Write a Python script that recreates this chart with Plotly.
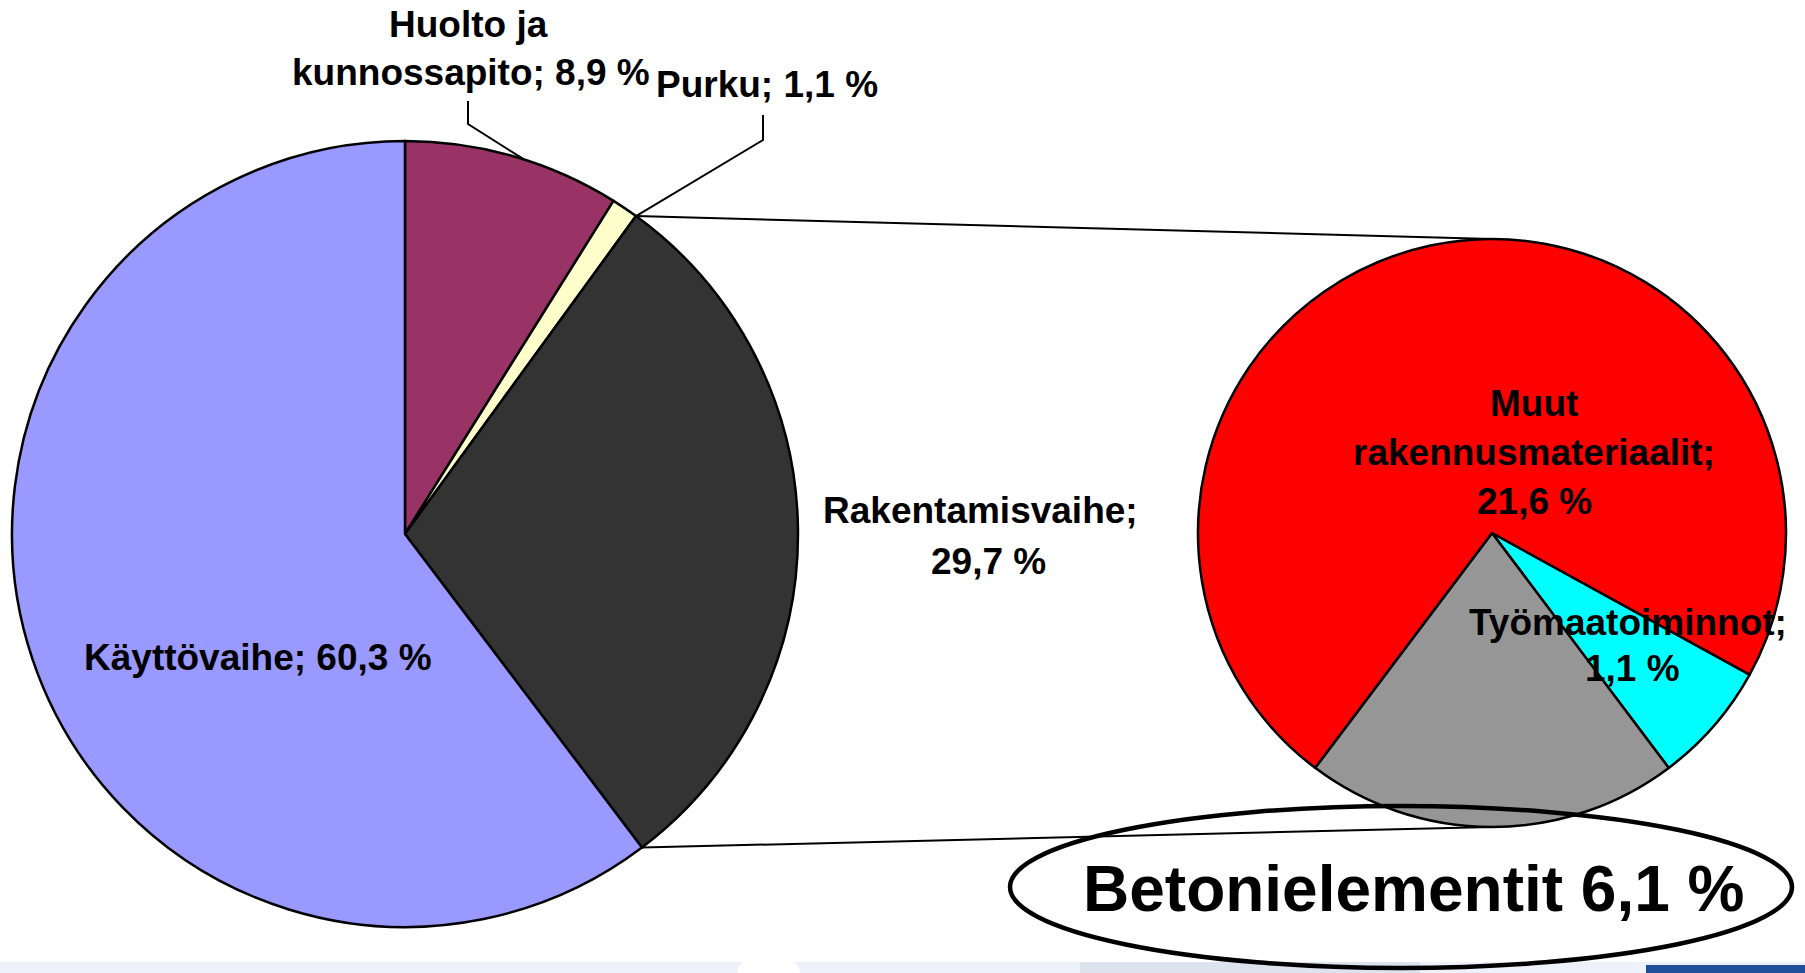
import math
import plotly.graph_objects as go

# ---- data ----
main_labels = ["Huolto ja kunnossapito", "Purku", "Rakentamisvaihe", "Käyttövaihe"]
main_values = [8.9, 1.1, 29.7, 60.3]
main_text = ["8,9 %", "1,1 %", "29,7 %", "60,3 %"]
main_colors = ["#993366", "#FFFFCC", "#333333", "#9999FF"]

sub_labels = ["Työmaatoiminnot", "Betonielementit", "Muut rakennusmateriaalit"]
sub_values = [2.0, 6.1, 21.6]          # slice sizes as drawn
sub_text = ["1,1 %", "6,1 %", "21,6 %"]
sub_colors = ["#00FFFF", "#969696", "#FF0000"]

W, H = 1805, 973

def px(x):
    return x / W

def py(y):
    return 1 - y / H

# pie geometry (pixels)
L_CX, L_CY, L_R = 405, 534, 393
R_CX, R_CY, R_R = 1492, 533, 294
SUB_ROT = 118.8

fig = go.Figure()
fig.add_trace(go.Pie(
    labels=main_labels, values=main_values, sort=False, direction="clockwise",
    rotation=0, marker=dict(colors=main_colors, line=dict(color="black", width=2.5)),
    textinfo="none", hoverinfo="label+percent", showlegend=False,
    domain=dict(x=[px(L_CX - L_R), px(L_CX + L_R)], y=[py(L_CY + L_R), py(L_CY - L_R)]),
))
fig.add_trace(go.Pie(
    labels=sub_labels, values=sub_values, sort=False, direction="clockwise",
    rotation=SUB_ROT, marker=dict(colors=sub_colors, line=dict(color="black", width=2.5)),
    textinfo="none", hoverinfo="label", showlegend=False,
    domain=dict(x=[px(R_CX - R_R), px(R_CX + R_R)], y=[py(R_CY + R_R), py(R_CY - R_R)]),
))

total = sum(main_values)

def arc_pt(frac):
    a = 2 * math.pi * frac
    return L_CX + L_R * math.sin(a), L_CY - L_R * math.cos(a)

cum = [0]
for v in main_values:
    cum.append(cum[-1] + v)

shapes = []
# bottom strip decoration
shapes.append(dict(type="rect", xref="paper", yref="paper", x0=0, x1=1, y0=0, y1=py(962),
                   fillcolor="#EDF1F9", line=dict(width=0), layer="below"))
shapes.append(dict(type="rect", xref="paper", yref="paper", x0=px(1080), x1=px(1420), y0=0, y1=py(962),
                   fillcolor="#DCE3EF", line=dict(width=0), layer="below"))
shapes.append(dict(type="circle", xref="paper", yref="paper", x0=px(737), x1=px(800), y0=py(990), y1=py(955),
                   fillcolor="white", line=dict(width=0), layer="below"))
shapes.append(dict(type="rect", xref="paper", yref="paper", x0=px(1646), x1=1, y0=0, y1=py(965),
                   fillcolor="#1F4E9A", line=dict(width=0)))

# connector lines from the Rakentamisvaihe slice edges to the sub pie
sx, sy = arc_pt(cum[2] / total)
ex, ey = arc_pt(cum[3] / total)
shapes.append(dict(type="line", xref="paper", yref="paper", x0=px(sx), y0=py(sy),
                   x1=px(R_CX), y1=py(R_CY - R_R), line=dict(color="black", width=2)))
shapes.append(dict(type="line", xref="paper", yref="paper", x0=px(ex), y0=py(ey),
                   x1=px(R_CX), y1=py(R_CY + R_R), line=dict(color="black", width=2)))

# leader lines
hx, hy = arc_pt((cum[0] + cum[1]) / 2 / total * 1.1)
shapes.append(dict(type="path", xref="paper", yref="paper",
                   path=f"M {px(468)},{py(101)} L {px(468)},{py(124)} L {px(hx)},{py(hy)}",
                   line=dict(color="black", width=2)))
qx, qy = arc_pt(cum[2] / total)
shapes.append(dict(type="path", xref="paper", yref="paper",
                   path=f"M {px(763)},{py(115)} L {px(763)},{py(140)} L {px(qx)},{py(qy)}",
                   line=dict(color="black", width=2)))

# highlight ellipse
shapes.append(dict(type="circle", xref="paper", yref="paper", x0=px(1010), x1=px(1792),
                   y0=py(968), y1=py(806), line=dict(color="black", width=4.5)))

FONT = "Liberation Sans, Arial, sans-serif"
anns = []

def ann(text, x, y, size=37):
    anns.append(dict(text=f"<b>{text}</b>", x=px(x), y=py(y), xref="paper", yref="paper",
                     xanchor="center", yanchor="middle", showarrow=False,
                     font=dict(family=FONT, size=size, color="black")))

ann("Huolto ja", 468, 24)
ann(f"kunnossapito; {main_text[0]}", 471, 72)
ann(f"{main_labels[1]}; {main_text[1]}", 767, 84)
ann(f"{main_labels[2]};", 980, 511)
ann(main_text[2], 988, 561)
ann(f"{main_labels[3]}; {main_text[3]}", 258, 657)
ann("Muut", 1534, 403)
ann("rakennusmateriaalit;", 1534, 452)
ann(sub_text[2], 1534, 501)
ann(f"{sub_labels[0]};", 1628, 622)
ann(sub_text[0], 1632, 668)
ann(f"{sub_labels[1]} {sub_text[1]}", 1414, 889, size=64)

fig.update_layout(
    width=W, height=H, margin=dict(l=0, r=0, t=0, b=0),
    paper_bgcolor="white", plot_bgcolor="white",
    shapes=shapes, annotations=anns, showlegend=False,
)
fig.write_html("out.html", config={"displayModeBar": False},
               post_script="document.body.style.margin='0';document.body.style.overflow='hidden';")
